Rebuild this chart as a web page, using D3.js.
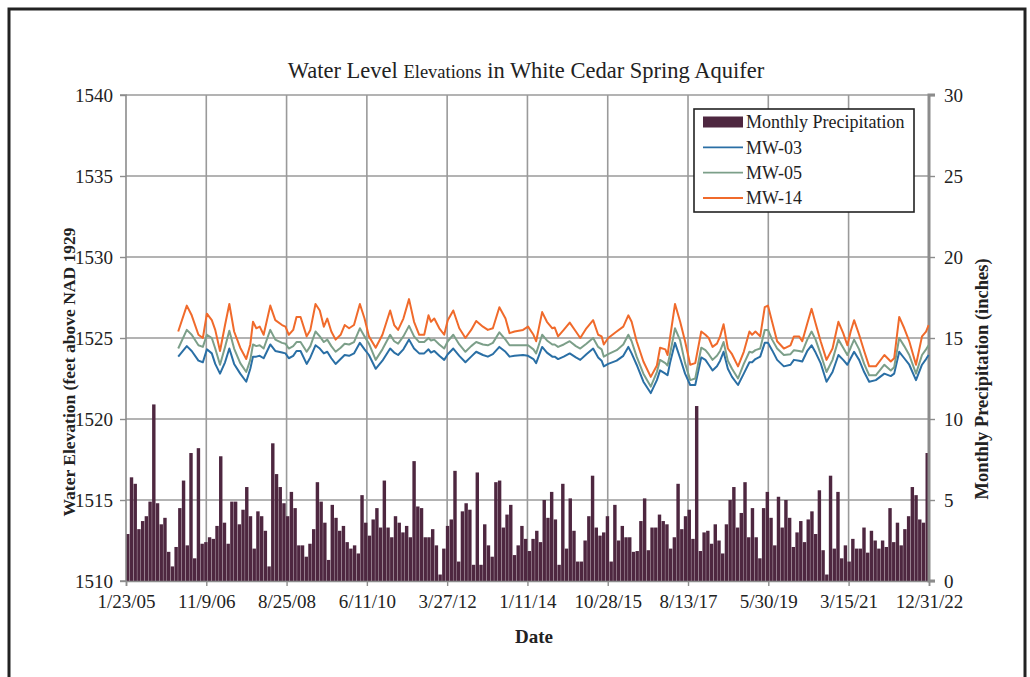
<!DOCTYPE html>
<html><head><meta charset="utf-8">
<script src="https://cdn.jsdelivr.net/npm/d3@7"></script>
<style>body{margin:0;background:#fff}svg{display:block}</style>
</head><body>
<svg id="c" width="1030" height="677"></svg>
<script>
// ---------------- DATA ----------------
const chartTitleA = "Water Level ";
const chartTitleB = "Elevations";
const chartTitleC = " in White Cedar Spring Aquifer";
const leftAxisTitle = "Water Elevation (feet above NAD 1929";
const rightAxisTitle = "Monthly Precipitation (inches)";
const xAxisTitle = "Date";

const xTickLabels = ["1/23/05","11/9/06","8/25/08","6/11/10","3/27/12","1/11/14","10/28/15","8/13/17","5/30/19","3/15/21","12/31/22"];
const leftTicks = [1510,1515,1520,1525,1530,1535,1540];
const rightTicks = [0,5,10,15,20,25,30];

const precipFirstMonth = "2005-01";
const precipLastMonth = "2022-12";
const precipitation = [
2.9,6.4,6.0,3.2,3.7,4.0,4.9,10.9,4.8,3.5,3.9,1.8,0.9,2.1,4.5,6.2,2.2,7.9,1.4,8.2,2.3,2.4,2.7,2.6,3.4,7.7,3.6,2.3,4.9,4.9,3.5,4.4,5.8,4.0,
2.0,
4.3,4.0,3.1,0.9,8.5,6.6,5.8,4.8,4.0,5.5,4.5,2.2,2.2,1.5,2.3,3.2,6.1,4.9,3.6,1.3,4.7,3.9,3.1,3.4,2.4,2.0,2.2,1.7,5.3,3.6,2.8,3.8,4.5,3.3,6.2,3.3,2.7,
4.0,3.6,3.0,3.4,2.7,7.4,4.6,4.5,2.7,2.7,3.2,2.2,0.4,2.0,3.4,3.8,6.8,1.2,4.3,4.8,4.4,1.0,6.7,1.0,3.5,2.2,1.5,6.1,6.2,3.3,4.1,4.7,1.6,2.2,3.4,
2.6,
1.85,2.6,3.1,2.4,5.0,3.9,5.5,3.8,1.0,6.0,2.0,5.1,3.1,1.2,1.2,2.5,4.0,6.5,3.3,2.8,3.0,4.0,1.2,4.7,2.5,3.4,2.7,2.7,1.8,1.85,3.7,5.1,1.9,3.3,3.3,4.1,3.7,
3.5,
2.0,2.7,6.0,3.2,4.0,4.4,2.6,10.8,1.85,3.0,3.1,2.3,3.5,2.5,1.7,3.5,5.0,5.8,3.3,4.2,6.1,2.7,4.5,2.7,1.4,4.5,5.5,3.9,2.2,5.2,3.3,5.0,3.9,2.1,3.0,3.7,
2.4,3.8,4.3,2.9,5.6,1.9,0.4,6.5,2.0,5.5,1.4,2.2,1.2,2.6,2.0,2.0,3.3,1.75,3.1,2.5,2.0,2.5,2.1,4.5,2.4,3.6,2.2,3.2,4.0,5.8,5.3,3.8,3.6,7.9
];

const wlDates = [
"2006-03-25","2006-06-03","2006-07-13","2006-09-06","2006-10-12","2006-11-14","2006-12-24","2007-01-21","2007-03-01","2007-04-11",
"2007-05-16","2007-06-24","2007-08-13","2007-10-01","2007-11-03","2007-11-25","2007-12-22","2008-01-19","2008-02-20","2008-04-14",
"2008-05-25","2008-07-19","2008-08-16","2008-09-12","2008-10-18","2008-11-14","2008-12-17","2009-02-05","2009-03-07","2009-04-18",
"2009-05-23","2009-06-25","2009-07-23","2009-08-25","2009-09-29","2009-11-09","2009-12-12","2010-01-17","2010-02-26","2010-04-15",
"2010-05-23","2010-06-28","2010-08-22","2010-10-16","2010-12-18","2011-01-20","2011-02-21","2011-04-05","2011-05-21","2011-07-01",
"2011-08-12","2011-09-22","2011-10-27","2011-11-16","2011-12-13","2012-01-23","2012-03-03","2012-04-01","2012-05-16","2012-07-04",
"2012-08-23","2012-10-09","2012-11-19","2013-01-13","2013-02-22","2013-04-04","2013-05-27","2013-07-16","2013-08-18","2013-09-28",
"2013-12-06","2014-01-16","2014-03-01","2014-03-23","2014-05-11","2014-06-19","2014-08-02","2014-08-21","2014-09-18","2014-11-03",
"2014-12-22","2015-02-10","2015-03-18","2015-05-07","2015-07-01","2015-08-11","2015-09-08","2015-09-26","2015-11-01","2016-01-09",
"2016-03-03","2016-04-13","2016-05-10","2016-06-20","2016-08-14","2016-10-13","2016-12-02","2016-12-28","2017-02-09","2017-02-27",
"2017-03-19","2017-04-29","2017-06-10","2017-07-20","2017-08-31","2017-10-11","2017-11-29","2018-01-02","2018-01-29","2018-03-01",
"2018-04-06","2018-05-02","2018-05-30","2018-07-04","2018-08-07","2018-09-25","2018-11-11","2018-12-27","2019-01-18","2019-02-14",
"2019-03-25","2019-05-01","2019-05-27","2019-06-30","2019-08-10","2019-10-04","2019-11-27","2019-12-25","2020-02-05","2020-03-02",
"2020-04-12","2020-05-17","2020-06-19","2020-07-30","2020-09-16","2020-11-04","2020-12-22","2021-01-30","2021-03-05","2021-04-01",
"2021-04-29","2021-06-09","2021-07-20","2021-08-30","2021-10-23","2022-01-01","2022-02-22","2022-03-22","2022-05-02","2022-06-12",
"2022-07-23","2022-09-16","2022-11-04","2022-12-07","2022-12-28"
];

const mw14 = [
1525.4,1527.0,1526.4,1525.2,1525.0,1526.5,1526.1,1525.5,1524.2,1525.8,
1527.1,1525.4,1524.4,1523.7,1524.6,1526.0,1525.6,1525.7,1525.2,1527.0,
1526.1,1525.8,1525.7,1525.2,1525.5,1526.3,1526.3,1525.1,1525.5,1527.1,
1526.7,1525.7,1526.2,1525.4,1524.9,1525.2,1525.8,1525.6,1525.8,1527.1,
1526.2,1525.1,1524.4,1525.2,1526.7,1525.8,1525.5,1526.2,1527.4,1526.0,
1525.2,1525.2,1526.4,1526.0,1526.2,1525.6,1525.2,1526.1,1526.7,1525.6,
1525.0,1525.5,1526.05,1525.7,1525.5,1525.6,1526.9,1526.2,1525.3,1525.4,
1525.5,1525.7,1525.2,1524.8,1526.6,1526.0,1525.6,1525.65,1525.1,1525.5,
1525.95,1525.4,1525.0,1525.6,1526.1,1525.2,1525.1,1524.6,1525.0,1525.4,
1525.7,1526.4,1526.0,1524.8,1523.55,1522.6,1523.3,1524.4,1524.3,1523.95,
1525.0,1527.1,1526.0,1524.8,1523.35,1523.45,1525.4,1525.2,1525.0,1524.45,
1524.65,1525.1,1525.85,1524.35,1524.0,1523.25,1524.15,1525.4,1525.2,1525.4,
1525.1,1526.9,1527.0,1526.0,1524.8,1524.35,1524.55,1525.1,1525.1,1524.8,
1525.9,1526.8,1525.9,1524.8,1523.65,1524.35,1526.0,1525.3,1524.55,1525.4,
1526.1,1525.2,1524.2,1523.25,1523.25,1523.95,1523.55,1523.75,1526.3,1525.6,
1524.8,1523.35,1525.1,1525.4,1525.8
];

const mw05 = [
1524.35,1525.5,1525.2,1524.55,1524.45,1525.2,1525.0,1524.35,1523.35,1524.45,
1525.45,1524.35,1523.45,1522.9,1523.65,1524.6,1524.5,1524.55,1524.35,1525.5,
1524.9,1524.7,1524.65,1524.35,1524.5,1524.75,1524.75,1524.15,1524.5,1525.4,
1525.1,1524.75,1524.9,1524.5,1524.15,1524.4,1524.65,1524.6,1524.75,1525.6,
1525.1,1524.65,1523.65,1524.3,1525.2,1524.8,1524.65,1525.1,1525.75,1525.1,
1524.75,1524.75,1525.0,1524.85,1524.9,1524.6,1524.35,1524.8,1525.2,1524.6,
1524.15,1524.5,1524.75,1524.6,1524.55,1524.7,1525.35,1524.9,1524.55,1524.55,
1524.55,1524.55,1524.3,1524.05,1525.2,1524.85,1524.6,1524.6,1524.45,1524.6,
1524.8,1524.5,1524.35,1524.65,1525.0,1524.45,1524.3,1523.85,1524.0,1524.25,
1524.6,1525.2,1524.8,1523.85,1522.8,1522.0,1522.9,1523.65,1523.45,1523.3,
1524.0,1525.6,1524.85,1523.45,1522.4,1522.5,1524.4,1524.25,1524.0,1523.65,
1523.9,1524.2,1524.75,1523.6,1523.1,1522.5,1523.4,1524.15,1524.1,1524.25,
1524.35,1525.5,1525.5,1524.9,1524.35,1523.95,1524.0,1524.25,1524.2,1524.15,
1524.9,1525.4,1524.9,1524.0,1522.9,1523.65,1524.9,1524.4,1523.95,1524.4,
1524.9,1524.3,1523.4,1522.7,1522.7,1523.35,1523.0,1523.2,1525.0,1524.5,
1523.95,1522.8,1523.95,1524.3,1524.55
];

const mw03 = [
1523.85,1524.5,1524.2,1523.6,1523.5,1524.3,1524.05,1523.4,1522.8,1523.5,
1524.35,1523.4,1522.8,1522.3,1523.1,1523.85,1523.85,1523.9,1523.75,1524.6,
1524.2,1524.1,1524.05,1523.75,1523.9,1524.2,1524.2,1523.4,1523.8,1524.55,
1524.35,1524.05,1524.15,1523.75,1523.4,1523.7,1523.95,1523.9,1524.05,1524.7,
1524.3,1523.95,1523.1,1523.6,1524.35,1524.1,1523.95,1524.3,1524.9,1524.35,
1524.05,1524.05,1524.3,1524.1,1524.2,1523.9,1523.65,1524.0,1524.35,1523.9,
1523.5,1523.85,1524.15,1523.95,1523.85,1524.0,1524.45,1524.15,1523.85,1523.9,
1523.95,1523.9,1523.7,1523.45,1524.45,1524.1,1523.85,1523.85,1523.7,1523.85,
1524.05,1523.8,1523.65,1524.0,1524.35,1523.8,1523.6,1523.25,1523.4,1523.6,
1523.9,1524.45,1524.05,1523.35,1522.3,1521.6,1522.4,1523.0,1522.8,1522.7,
1523.45,1524.7,1523.75,1522.8,1522.1,1522.1,1523.8,1523.65,1523.35,1523.0,
1523.25,1523.6,1524.15,1523.1,1522.6,1522.1,1522.8,1523.5,1523.5,1523.7,
1523.85,1524.7,1524.7,1524.25,1523.65,1523.25,1523.35,1523.65,1523.6,1523.55,
1524.2,1524.55,1524.1,1523.45,1522.3,1522.9,1523.95,1523.65,1523.35,1523.75,
1524.15,1523.65,1522.9,1522.3,1522.4,1522.8,1522.65,1522.8,1524.15,1523.75,
1523.35,1522.4,1523.35,1523.7,1523.95
];

const seriesNames = ["Monthly Precipitation","MW-03","MW-05","MW-14"];
const seriesColors = {"Monthly Precipitation":"#4e2740","MW-03":"#2a6fa5","MW-05":"#7c9f89","MW-14":"#f06a2b"};

// ---------------- CHART ----------------
const svg = d3.select("#c");
const m = {l:126, r:929, t:95, b:581};
const serif = "'Liberation Serif','Times New Roman',serif";
const parseTick = d3.timeParse("%m/%d/%y");
const parseDate = d3.timeParse("%Y-%m-%d");
const tickDates = xTickLabels.map(parseTick);

const x = d3.scaleTime().domain([tickDates[0], tickDates[tickDates.length-1]]).range([m.l, m.r]);
const yL = d3.scaleLinear().domain([1510,1540]).range([m.b, m.t]);
const yR = d3.scaleLinear().domain([0,30]).range([m.b, m.t]);

const months = d3.timeMonth.range(d3.timeParse("%Y-%m")(precipFirstMonth), d3.timeMonth.offset(d3.timeParse("%Y-%m")(precipLastMonth),1)).map(d3.timeFormat("%Y-%m"));
const xb = d3.scaleBand().domain(months).range([m.l, m.r]).paddingInner(0.08).paddingOuter(0.02);

// frame
svg.append("rect").attr("x",9).attr("y",9).attr("width",1016).attr("height",690)
  .attr("fill","none").attr("stroke","#222").attr("stroke-width",3);

// gridlines
const grid = svg.append("g").attr("stroke","#9a9a9a").attr("stroke-width",1.6);
grid.selectAll(".h").data(leftTicks.slice(1)).join("line")
  .attr("x1",m.l).attr("x2",m.r).attr("y1",d=>yL(d)).attr("y2",d=>yL(d));
grid.selectAll(".v").data(tickDates.slice(1,-1)).join("line")
  .attr("x1",d=>x(d)).attr("x2",d=>x(d)).attr("y1",m.t).attr("y2",m.b);

// bars
svg.append("g").selectAll("rect").data(precipitation).join("rect")
  .attr("x",(d,i)=>xb(months[i])).attr("width",xb.bandwidth())
  .attr("y",d=>yR(d)).attr("height",d=>yR(0)-yR(d))
  .attr("fill",seriesColors["Monthly Precipitation"]);

// axes
const axL = d3.axisLeft(yL).tickValues(leftTicks).tickSize(6).tickFormat(d3.format("d"));
const gL = svg.append("g").attr("transform",`translate(${m.l},0)`).call(axL);
const axR = d3.axisRight(yR).tickValues(rightTicks).tickSize(6).tickFormat(d3.format("d"));
const gR = svg.append("g").attr("transform",`translate(${m.r},0)`).call(axR);
const axB = d3.axisBottom(x).tickValues(tickDates).tickSize(5).tickFormat((d,i)=>xTickLabels[i]);
const gB = svg.append("g").attr("transform",`translate(0,${m.b})`).call(axB);
[gL,gR,gB].forEach(g=>{
  g.selectAll("path").attr("stroke","#8c8c8c").attr("stroke-width",1.6);
  g.selectAll("line").attr("stroke","#8c8c8c").attr("stroke-width",1.4);
  g.selectAll("text").attr("font-family",serif).attr("font-size",19).attr("fill","#222");
});
gL.select("path").attr("d",`M-6,${m.t}H0V${m.b}H-6`);
gR.select("path").attr("stroke-width",3).attr("d",`M6,${m.t}H0V${m.b}H6`);
gL.selectAll("text").attr("x",-13);
gR.selectAll("text").attr("x",15);
gB.selectAll("text").attr("dy","1.0em");

// lines
const lineGen = d3.line().x(d=>x(d.date)).y(d=>yL(d.v)).curve(d3.curveLinear);
const dates = wlDates.map(parseDate);
[["MW-03",mw03],["MW-05",mw05],["MW-14",mw14]].forEach(([name,vals])=>{
  svg.append("path").datum(vals.map((v,i)=>({date:dates[i],v})))
    .attr("d",lineGen).attr("fill","none").attr("stroke",seriesColors[name])
    .attr("stroke-width",2).attr("stroke-linejoin","round");
});

// title
const t = svg.append("text").attr("x",526).attr("y",78).attr("text-anchor","middle")
  .attr("font-family",serif).attr("font-size",22.5).attr("fill","#222");
t.append("tspan").text(chartTitleA);
t.append("tspan").attr("font-size",18.5).text(chartTitleB);
t.append("tspan").text(chartTitleC);

// axis titles
svg.append("text").attr("transform","translate(75,372) rotate(-90)").attr("text-anchor","middle")
  .attr("font-family",serif).attr("font-weight","bold").attr("font-size",17.5).attr("fill","#222").text(leftAxisTitle);
svg.append("text").attr("transform","translate(988,379) rotate(-90)").attr("text-anchor","middle")
  .attr("font-family",serif).attr("font-weight","bold").attr("font-size",18.5).attr("fill","#222").text(rightAxisTitle);
svg.append("text").attr("x",534).attr("y",643).attr("text-anchor","middle")
  .attr("font-family",serif).attr("font-weight","bold").attr("font-size",19).attr("fill","#222").text(xAxisTitle);

// legend
const lg = svg.append("g");
lg.append("rect").attr("x",694).attr("y",109).attr("width",220).attr("height",103)
  .attr("fill","#fff").attr("stroke","#222").attr("stroke-width",1.6);
const legY = d3.scalePoint().domain(seriesNames).range([122,198]);
seriesNames.forEach((name,i)=>{
  const cy = legY(name);
  if(i===0){
    lg.append("rect").attr("x",703).attr("y",cy-5.5).attr("width",40).attr("height",11).attr("fill",seriesColors[name]);
  } else {
    lg.append("line").attr("x1",703).attr("x2",743).attr("y1",cy).attr("y2",cy)
      .attr("stroke",seriesColors[name]).attr("stroke-width",1.8);
  }
  lg.append("text").attr("x",746).attr("y",cy).attr("dy","0.35em")
    .attr("font-family",serif).attr("font-size",18).attr("fill","#222").text(name);
});
</script>
</body></html>
